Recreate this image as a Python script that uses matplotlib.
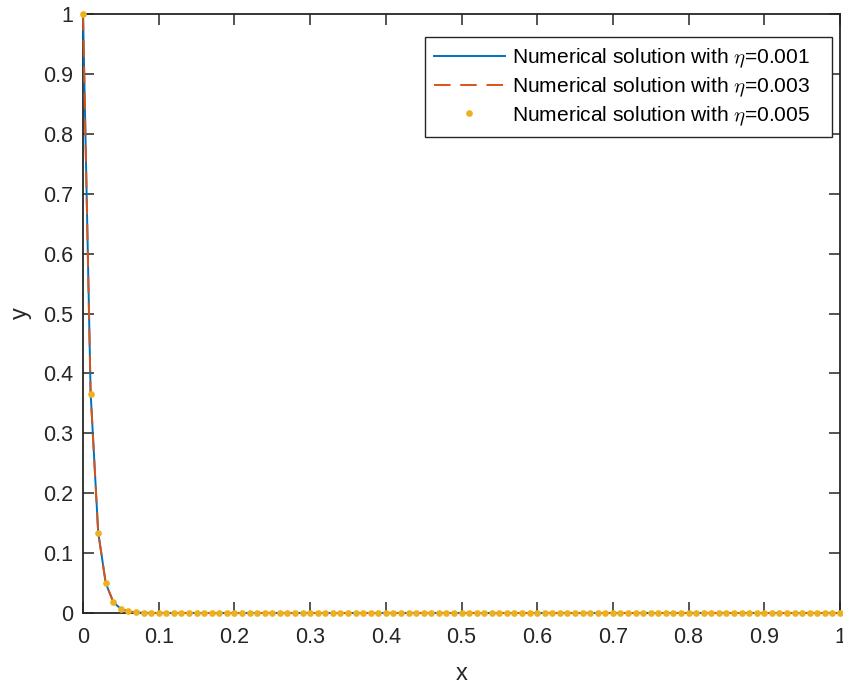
import numpy as np
import matplotlib
matplotlib.use('Agg')
import matplotlib.pyplot as plt

# grid and solution values (step 0.01 on [0, 1])
x = np.round(np.arange(0, 101) * 0.01, 2)

head_001 = [1.0, 0.368, 0.135, 0.0498, 0.0183, 0.0067, 0.0025, 0.0009, 0.0003, 0.0001]
head_003 = [1.0, 0.367, 0.135, 0.0497, 0.0183, 0.0067, 0.0025, 0.0009, 0.0003, 0.0001]
head_005 = [1.0, 0.366, 0.134, 0.0495, 0.0182, 0.0067, 0.0025, 0.0009, 0.0003, 0.0001]

y_001 = head_001 + [0.0] * (len(x) - len(head_001))
y_003 = head_003 + [0.0] * (len(x) - len(head_003))
y_005 = head_005 + [0.0] * (len(x) - len(head_005))

# trailing spaces leave extra room on the right of the legend box
labels = [r'Numerical solution with $\eta$=0.001   ',
          r'Numerical solution with $\eta$=0.003   ',
          r'Numerical solution with $\eta$=0.005   ']

plt.rcParams['font.family'] = ['Liberation Sans', 'DejaVu Sans']
plt.rcParams['mathtext.fontset'] = 'cm'

dark = '#262626'

fig = plt.figure(figsize=(8.43, 6.90), dpi=100)
ax = fig.add_axes([0.0985, 0.1116, 0.8979, 0.8681])

ax.plot(x, y_001, color='#0072BD', lw=1.4, label=labels[0], clip_on=False, zorder=3)
ax.plot(x, y_003, color='#D95319', lw=1.4, ls=(0, (8.5, 5)), label=labels[1],
        clip_on=False, zorder=4)
ax.plot(x, y_005, color='#EDB120', ls='none', marker='o', ms=3.8, label=labels[2],
        clip_on=False, zorder=5)

ax.set_xlim(0, 1)
ax.set_ylim(0, 1)
ax.set_xticks(np.arange(0, 11) / 10)
ax.set_yticks(np.arange(0, 11) / 10)
ax.set_xticklabels(['0', '0.1', '0.2', '0.3', '0.4', '0.5', '0.6', '0.7', '0.8', '0.9', '1'])
ax.set_yticklabels(['0', '0.1', '0.2', '0.3', '0.4', '0.5', '0.6', '0.7', '0.8', '0.9', '1'])

ax.tick_params(direction='in', top=True, right=True, length=8, width=1.1,
               labelsize=15.5, colors=dark)
ax.tick_params(axis='x', pad=10)
ax.tick_params(axis='y', pad=7)
for s in ax.spines.values():
    s.set_linewidth(1.3)
    s.set_color(dark)
    s.set_zorder(2)

ax.set_xlabel('x', fontsize=17, color=dark, labelpad=11)
ax.set_ylabel('y', fontsize=17, color=dark, labelpad=8)

leg = ax.legend(loc='upper right', bbox_to_anchor=(0.9894, 0.9616), fontsize=15.1,
                fancybox=False, edgecolor=dark, framealpha=1, borderpad=0.45,
                handlelength=3.35, labelspacing=0.25, handletextpad=0.35,
                borderaxespad=0)
leg.get_frame().set_linewidth(1.0)
leg.set_zorder(10)

fig.savefig('out.png', dpi=100)
